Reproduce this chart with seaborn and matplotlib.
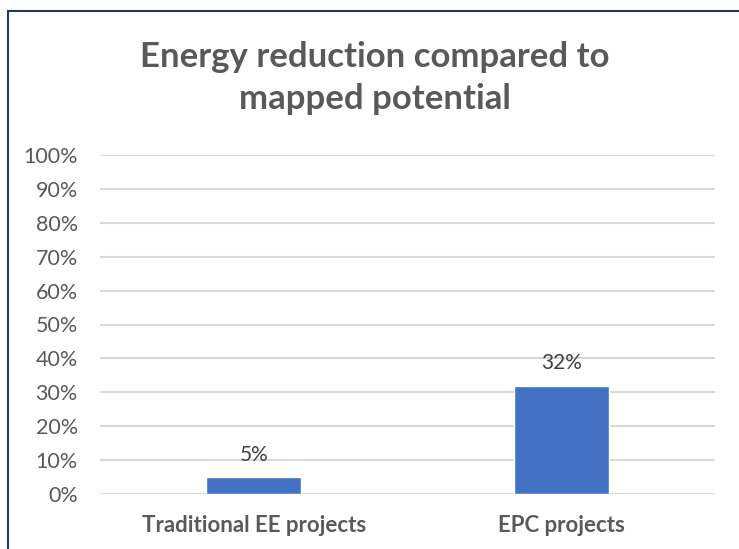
import matplotlib
matplotlib.use("Agg")
import matplotlib.pyplot as plt
import seaborn as sns
import pandas as pd
from matplotlib.patches import Rectangle
from matplotlib.ticker import PercentFormatter, MultipleLocator

categories = ["Traditional EE projects", "EPC projects"]
values = [5, 32]
labels = ["5%", "32%"]

sns.set_theme(style="white")
plt.rcParams['font.family'] = ['Lato', 'DejaVu Sans']

W, H = 739, 549
fig = plt.figure(figsize=(W / 100, H / 100), dpi=100)
ax = fig.add_axes([100 / W, 1 - 494 / H, 615 / W, (494 - 155) / H])

df = pd.DataFrame({"cat": categories, "val": values})
sns.barplot(data=df, x="cat", y="val", color="#4472C4", width=0.31,
            saturation=1, ax=ax, zorder=3)

ax.set_ylim(0, 100)
ax.set_xlim(-0.5, 1.5)
ax.yaxis.set_major_locator(MultipleLocator(10))
ax.yaxis.set_major_formatter(PercentFormatter(decimals=0))
ax.grid(axis="y", color="#D9D9D9", linewidth=1.5, zorder=0)
ax.set_axisbelow(True)
for s in ax.spines.values():
    s.set_visible(False)
ax.set_xlabel("")
ax.set_ylabel("")
ax.tick_params(axis="y", labelsize=15.5, labelcolor="#595959", length=0, pad=16)
ax.tick_params(axis="x", labelsize=16, labelcolor="#595959", length=0, pad=15)
for t in ax.get_xticklabels():
    t.set_fontweight("bold")

for i, (v, lab) in enumerate(zip(values, labels)):
    ax.annotate(lab, (i, v), xytext=(0, 9), textcoords="offset points",
                ha="center", va="bottom", fontsize=15, color="#404040")

fig.text(375 / W, 1 - 78 / H, "Energy reduction compared to\nmapped potential",
         ha="center", va="center", fontsize=25, fontweight="bold",
         color="#595959", linespacing=1.4)

fig.patches.append(Rectangle((7.5 / W, -0.1), 1.2, 1 - 10.5 / H + 0.1,
                             transform=fig.transFigure, fill=False,
                             edgecolor="#1F3864", linewidth=1.5))

fig.savefig("out.png", dpi=100, facecolor="white")
